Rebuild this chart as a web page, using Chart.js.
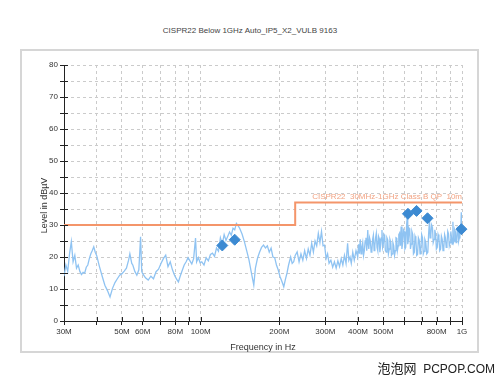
<!DOCTYPE html>
<html>
<head>
<meta charset="utf-8">
<script src="https://cdn.jsdelivr.net/npm/chart.js@4.4.1/dist/chart.umd.min.js"></script>
<style>
  body { margin: 0; width: 500px; height: 378px; background: #fff; position: relative; overflow: hidden; font-family: "Liberation Sans", Arial, sans-serif; }
  #frame { position: absolute; left: 20px; top: 49px; width: 455px; height: 300px; border: 2px solid #d6d6d6; }
  #title { position: absolute; left: 0; top: 26px; width: 500px; text-align: center; font-size: 8px; line-height: 10px; color: #444; }
  #chart { position: absolute; left: 0; top: 0; }
  #mark { position: absolute; right: 5px; top: 359px; font-size: 12px; line-height: 18px; color: #222; white-space: pre; }
  #mark .cjk { font-family: "Noto Sans CJK SC", sans-serif; font-size: 13px; }
</style>
</head>
<body>
<div id="frame"></div>
<div id="title">CISPR22 Below 1GHz Auto_IP5_X2_VULB 9163</div>
<canvas id="chart" width="500" height="378"></canvas>
<div id="mark"><span class="cjk">泡泡网</span>  PCPOP.COM</div>
<script>
// measured trace, frequency in MHz / level in dBµV
const traceFreqs = [
  30, 30.5, 31, 31.5, 32, 32.5, 33, 33.5, 34, 34.5, 35, 35.5, 36, 36.5, 37, 37.5, 38, 38.5, 39, 39.5, 40,
  41, 42, 43, 44, 45, 46, 47, 48, 49, 50, 51, 52, 53, 53.6, 54.5, 55, 56, 57, 58, 58.9, 59.5, 60,
  61.5, 63, 64.5, 66, 67.5, 69, 70.5, 72, 73.5, 75, 76.5, 78, 79.5, 81, 82.2, 83.5, 85, 86.5, 88, 89.5, 91, 92.5, 94, 95.6, 96.5, 98, 99.5,
  101, 103, 105, 107, 109, 111, 113, 115, 117, 119,
  121, 123, 125, 127, 129, 131, 133, 135, 137, 139,
  141, 144, 147, 150, 153, 156, 159.7, 162, 165, 168,
  171, 174, 177, 180, 183, 186, 189, 192, 195, 198,
  201, 205, 208, 211, 214, 217, 221, 224, 227, 230,
  234, 238, 242, 246, 250, 254, 258, 262, 266, 270,
  274, 278, 282, 286, 290, 294, 298, 302, 306, 310,
  315, 320, 325, 330, 335, 340, 345, 350, 355, 360,
  365, 369, 373, 377, 382, 387, 393,
  399, 402, 405, 408, 411, 414, 417, 420, 423, 426,
  429, 432, 436, 438, 440, 443, 446, 449, 452, 455,
  458, 461, 464, 467, 470, 473, 476, 479, 482, 485,
  488, 491, 494, 497, 500, 503, 506, 509, 513, 516,
  520, 523, 527, 530, 534, 537, 541, 544, 548, 552,
  556, 559, 563, 566, 570, 573, 577, 581, 585, 589,
  593, 597, 601, 605, 609, 613, 617, 620, 623, 627,
  631, 635, 639, 643, 648, 652, 657, 661, 666, 671,
  676, 681, 686, 691, 696, 701, 706, 711, 716, 721,
  727, 733, 740, 745, 751, 755, 760, 765, 771, 776,
  782, 787, 793, 798, 804, 810, 816, 822, 828, 834,
  840, 846, 852, 858, 864, 870, 876, 882, 888, 894,
  900, 906, 912, 917, 923, 928, 933, 938, 944, 949,
  955, 960, 966, 971, 977, 982, 988, 994, 1000
];
const traceLevels = [
  14, 17.5, 15.5, 21, 24.8, 18.5, 20.5, 16.5, 17.5, 15.5, 14.5, 15.2, 15, 16.8, 17.5, 19.5, 21, 22, 23.2, 21.5, 20.5,
  17, 14, 11.2, 9.5, 7.5, 10.2, 12, 13.2, 14.3, 14.8, 15.6, 16.5, 19, 21, 18, 17.5, 15.5, 14.3, 16, 26.3, 15.5, 14.8,
  13.5, 12.8, 14, 13.2, 15.4, 16.2, 18, 19.5, 20.6, 17, 18.5, 16, 14.2, 13, 12.2, 14, 15.8, 17.5, 18.5, 19.8, 18.8, 17.8, 19.5, 25.9, 18.5, 19.8, 18.2,
  18.5, 17.5, 19.8, 18.8, 20.8, 21.2, 20.2, 22.8, 21.8, 26,
  24, 27, 25.2, 26.5, 27.8, 26.8, 29, 28.5, 30.5, 29.8,
  29, 27.2, 24.8, 22, 19.2, 15.5, 11.2, 16.5, 19.6, 21.5,
  23, 23.7, 22.8, 23.5, 21.5, 22.8, 20, 19.8, 17.5, 16,
  14, 12.2, 10.7, 13, 15, 17.5, 20, 18, 18.5, 20.5,
  21.6, 18.5, 21, 19, 22, 19.5, 22.5, 20.5, 24.3, 21.5,
  25, 23.5, 27.4, 24.5, 28, 23.5, 23.7, 19.5, 21, 18,
  19, 16.8, 18.5, 16.5, 18.8, 17, 19.5, 17.5, 20.5, 18,
  24.3, 19, 20, 18, 21.5, 19, 22,
  20, 24, 21, 25.5, 21, 23, 24.5, 20.5, 22, 25,
  26, 22, 28.4, 24, 22.5, 26, 25, 21.5, 22, 25.5,
  26.8, 22, 23.5, 26, 27.4, 23, 22, 26.5, 25.8, 21.5,
  23.5, 26, 28.4, 23, 24, 27, 26.5, 22, 21.5, 26,
  25.3, 21, 22.5, 25.5, 24.5, 20.5, 21, 24.5, 23.5, 20.5,
  22, 26, 25.8, 22, 23.5, 27, 27.5, 23.5, 29.5, 22.5,
  24.5, 28.5, 28, 22.5, 23, 29, 32.6, 24, 25, 29,
  28.5, 22.5, 24, 28, 27, 21, 21.5, 26.5, 25.5, 20.5,
  20.8, 26, 25.3, 21, 22.5, 27, 26, 21, 21.8, 25.5,
  24.5, 21, 21.5, 27, 31.6, 26, 27, 30, 29.2, 24.5,
  25.5, 28.5, 27, 22.5, 23, 27, 26, 22, 22.5, 26.5,
  25.5, 22, 23, 27, 26, 23, 24, 28, 27.2, 23.5,
  24.5, 28, 26, 24, 31, 24.5, 25, 28.5, 27.8, 24.5,
  25.2, 29, 28.5, 25, 26, 29, 27.5, 34, 29
];

// CISPR22 class B QP limit (step at 230 MHz)
const limitFreqs = [30, 230, 230, 1000];
const limitLevels = [30, 30, 37, 37];
const limitName = "CISPR22  30MHz-1GHz Class B QP  10m";

// QP peak markers
const peakFreqs = [121, 135, 621, 670, 738, 995];
const peakLevels = [23.6, 25.4, 33.5, 34.4, 32.1, 28.7];

// x axis ticks
const xTickVals = [30, 40, 50, 60, 70, 80, 90, 100, 200, 300, 400, 500, 600, 700, 800, 900, 1000];
const xTickLabels = ["30M", "", "50M", "60M", "", "80M", "", "100M", "200M", "300M", "400M", "500M", "", "", "800M", "", "1G"];

if (traceFreqs.length !== traceLevels.length) {
  throw new Error(`trace mismatch ${traceFreqs.length} vs ${traceLevels.length}`);
}

const fontFamily = "'Liberation Sans', Arial, sans-serif";
const toPoints = (xs, ys) => xs.map((x, i) => ({ x, y: ys[i] }));

const limitLabel = {
  id: "limitLabel",
  afterDatasetsDraw(chart) {
    const { ctx, scales } = chart;
    const x = scales.x.getPixelForValue(limitFreqs[limitFreqs.length - 1]);
    const y = scales.y.getPixelForValue(limitLevels[limitLevels.length - 1]);
    ctx.save();
    ctx.font = `8px ${fontFamily}`;
    ctx.fillStyle = "#f2a484";
    ctx.textAlign = "right";
    ctx.textBaseline = "bottom";
    ctx.fillText(limitName, x, y - 2);
    ctx.restore();
  },
};

// tick marks that also reach into the plot area
const innerTicks = {
  id: "innerTicks",
  afterDraw(chart) {
    const { ctx, scales, chartArea } = chart;
    ctx.save();
    ctx.strokeStyle = "#222";
    ctx.lineWidth = 1;
    ctx.beginPath();
    scales.y.ticks.forEach((t) => {
      const y = Math.round(scales.y.getPixelForValue(t.value)) + 0.5;
      ctx.moveTo(chartArea.left, y);
      ctx.lineTo(chartArea.left + 4, y);
    });
    scales.x.ticks.forEach((t) => {
      const x = Math.round(scales.x.getPixelForValue(t.value)) + 0.5;
      ctx.moveTo(x, chartArea.bottom);
      ctx.lineTo(x, chartArea.bottom - 4);
    });
    ctx.stroke();
    ctx.restore();
  },
};

new Chart(document.getElementById("chart"), {
  type: "line",
  data: {
    datasets: [
      {
        label: "QP",
        data: toPoints(peakFreqs, peakLevels),
        showLine: false,
        pointStyle: "rectRot",
        pointRadius: 5.5,
        backgroundColor: "#3c8ad2",
        borderColor: "#3c8ad2",
        clip: false,
        order: 0,
      },
      {
        label: limitName,
        data: toPoints(limitFreqs, limitLevels),
        borderColor: "#f4956a",
        borderWidth: 2,
        pointRadius: 0,
        order: 1,
      },
      {
        label: "Trace",
        data: toPoints(traceFreqs, traceLevels),
        borderColor: "#8fc3f2",
        borderWidth: 1.3,
        pointRadius: 0,
        tension: 0,
        order: 2,
      },
    ],
  },
  options: {
    responsive: false,
    animation: false,
    devicePixelRatio: 1,
    layout: { padding: { top: 65, right: 38, left: 0, bottom: 0 } },
    plugins: { legend: { display: false }, tooltip: { enabled: false } },
    scales: {
      x: {
        type: "logarithmic",
        min: 30,
        max: 1000,
        afterBuildTicks: (s) => { s.ticks = xTickVals.map((v) => ({ value: v })); },
        afterFit: (s) => { s.height = 57; },
        ticks: {
          autoSkip: false,
          maxRotation: 0,
          padding: 2,
          color: "#333",
          font: { size: 8, family: fontFamily },
          callback: (v) => xTickLabels[xTickVals.indexOf(v)] ?? "",
        },
        grid: { color: "#cbcbcb", tickColor: "#222", tickLength: 4, tickBorderDash: [] },
        border: { color: "#222", width: 1, dash: [3, 3] },
        title: {
          display: true,
          text: "Frequency in Hz",
          color: "#333",
          font: { size: 9, family: fontFamily },
          padding: { top: 0, bottom: 25 },
        },
      },
      y: {
        min: 0,
        max: 80,
        afterFit: (s) => { s.width = 64; },
        ticks: {
          stepSize: 5,
          padding: 2,
          color: "#333",
          font: { size: 8, family: fontFamily },
          callback: (v) => (v % 10 === 0 ? v : ""),
        },
        grid: { color: "#cbcbcb", tickColor: "#222", tickLength: 4, tickBorderDash: [] },
        border: { color: "#222", width: 1, dash: [3, 3] },
        title: {
          display: true,
          // trailing spaces push the rotated title a little lower, as in the source
          text: "Level in dBµV          ",
          color: "#333",
          font: { size: 9, family: fontFamily },
          padding: { top: 39, bottom: 0 },
        },
      },
    },
  },
  plugins: [limitLabel, innerTicks],
});
</script>
</body>
</html>
